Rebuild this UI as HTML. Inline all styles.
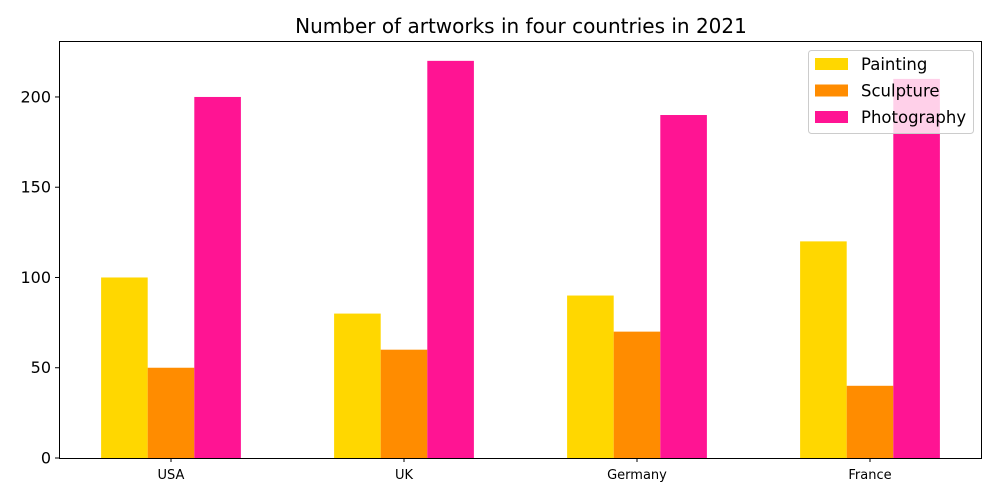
<!DOCTYPE html>
<html><head><meta charset="utf-8"><style>
body{margin:0;background:#fff;}
svg{display:block;font-family:"DejaVu Sans","Liberation Sans",sans-serif;}
</style></head><body>
<svg id="chart" width="1000" height="500"></svg>
<script>
const categories = ["USA","UK","Germany","France"];
const painting = [100,80,90,120];
const sculpture = [50,60,70,40];
const photography = [200,220,190,210];
const yTicks = [0,50,100,150,200];
const seriesNames = ["Painting","Sculpture","Photography"];
const colors = ["#FFD700","#FF8C00","#FF1493"];

const NS="http://www.w3.org/2000/svg";
const svg=document.getElementById('chart');
const L=59,R=982,T=41,B=458;
const yMax=231;
const x=v=>171+v*233;
const y=v=>B-(v/yMax)*(B-T);
function el(tag,attrs,parent){const e=document.createElementNS(NS,tag);for(const k in attrs)e.setAttribute(k,attrs[k]);(parent||svg).appendChild(e);return e;}

const title=el('text',{x:521,y:33,'text-anchor':'middle','font-size':20,fill:'#000'});
title.textContent="Number of artworks in four countries in 2021";



const series=[painting,sculpture,photography];
const bw=0.2;
series.forEach((vals,s)=>{
  vals.forEach((v,i)=>{
    const cx=i+(s-1)*bw;
    const r=el('rect',{x:x(cx-bw/2),y:y(v),width:x(cx+bw/2)-x(cx-bw/2),height:B-y(v),fill:colors[s]});
    
    
  });
});

const frame=el('rect',{x:L+0.5,y:T+0.5,width:R-L-1,height:B-T,fill:'none',stroke:'#000','stroke-width':1});



yTicks.forEach(t=>{
  el('line',{x1:L-4,x2:L,y1:y(t),y2:y(t),stroke:'#000'});
  const tx=el('text',{x:L-8,y:y(t)+5.5,'text-anchor':'end','font-size':16,fill:'#000'});
  tx.textContent=t;
  
  
});
categories.forEach((c,i)=>{
  el('line',{x1:x(i),x2:x(i),y1:B,y2:B+4,stroke:'#000'});
  const tx=el('text',{x:x(i),y:479,'text-anchor':'middle','font-size':13,fill:'#000'});
  tx.textContent=c;
  
  
});

const lg=el('g',{});


el('rect',{x:808.5,y:50.5,width:165,height:83,rx:3,fill:'#fff','fill-opacity':0.8,stroke:'#ccc'},lg);
seriesNames.forEach((n,s)=>{
  const cy=64+s*26.5;
  const p=el('rect',{x:815,y:cy-6,width:33,height:12,fill:colors[s]},lg);
  
  
  const t=el('text',{x:861,y:cy+6,'font-size':16.5,fill:'#000'},lg);
  t.textContent=n;
  
  
});
</script>
</body></html>
